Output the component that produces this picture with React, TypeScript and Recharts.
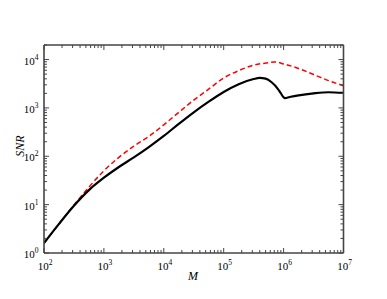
import { LineChart, Line, XAxis, YAxis } from "recharts";

// (log10 spacing on both axes)
const MASS_SOLID = [
  100, 178, 316, 562, 1000, 1778, 3162, 5623, 10000, 17783, 31623, 56234,
  100000, 177828, 316228, 398107, 501187, 630957, 794328, 891251, 1000000,
  1047129, 1258925, 1778279, 3162278, 5623413, 10000000,
];
const SNR_SOLID = [
  1.6, 4.0, 9.5, 20, 36, 60, 95, 155, 263, 468, 813, 1350, 2140, 3100, 3960,
  4170, 4030, 3390, 2510, 2040, 1660, 1600, 1680, 1820, 2000, 2110, 2040,
];

const MASS_DASHED = [
  100, 178, 316, 562, 1000, 1778, 3162, 5623, 10000, 17783, 31623, 56234,
  100000, 177828, 316228, 562341, 707946, 1000000, 1778279, 3162278, 5623413,
  10000000,
];
const SNR_DASHED = [
  1.6, 4.0, 9.8, 23, 50, 95, 162, 257, 447, 810, 1450, 2450, 4170, 5890, 7660,
  8610, 8950, 8130, 6530, 4900, 3670, 2880,
];

const X_MAJOR = [1e2, 1e3, 1e4, 1e5, 1e6, 1e7];
const Y_MAJOR = [1, 10, 100, 1e3, 1e4];
const MINOR_STEPS = [2, 3, 4, 5, 6, 7, 8, 9];

const X_DOMAIN = [1e2, 1e7];
const Y_DOMAIN = [1, 2e4];

const AXIS = "#454545";
const FONT = "Liberation Serif, Times New Roman, serif";

const withMinor = (majors: number[], max: number) => {
  const out: number[] = [];
  majors.forEach((m) => {
    out.push(m);
    MINOR_STEPS.forEach((s) => {
      if (m * s <= max) out.push(m * s);
    });
  });
  return out.filter((v) => v <= max);
};

const X_TICKS = withMinor(X_MAJOR, X_DOMAIN[1]);
const Y_TICKS = withMinor(Y_MAJOR, Y_DOMAIN[1]);

const solidData = MASS_SOLID.map((m, i) => ({ m, snr: SNR_SOLID[i] }));
const dashedData = MASS_DASHED.map((m, i) => ({ m, snr: SNR_DASHED[i] }));

function isMajor(v: number) {
  const l = Math.log10(v);
  return Math.abs(l - Math.round(l)) < 1e-6;
}

function Tick(props: any) {
  const { x, y, payload, side } = props;
  const v = payload.value;
  const major = isMajor(v);
  const len = major ? 5 : 3;
  const e = Math.round(Math.log10(v));
  let line;
  if (side === "bottom") line = <line x1={x} x2={x} y1={y} y2={y - len} />;
  else if (side === "top") line = <line x1={x} x2={x} y1={y} y2={y + len} />;
  else if (side === "left") line = <line x1={x} x2={x + len} y1={y} y2={y} />;
  else line = <line x1={x} x2={x - len} y1={y} y2={y} />;

  return (
    <g stroke={AXIS} strokeWidth={1}>
      {line}
      {major && side === "bottom" && (
        <text x={x + 1} y={y + 17} textAnchor="middle" fontFamily={FONT} fontSize={11} fill="#000" stroke="none">
          10
          <tspan dy={-5} fontSize={7.5}>{e}</tspan>
        </text>
      )}
      {major && side === "left" && (
        <text x={x - 5.5} y={y + 5} textAnchor="end" fontFamily={FONT} fontSize={11} fill="#000" stroke="none">
          10
          <tspan dy={-5} fontSize={7.5}>{e}</tspan>
        </text>
      )}
    </g>
  );
}

const axisLine = { stroke: AXIS, strokeWidth: 1.6 };

export default function App() {
  return (
    <div style={{ position: "absolute", left: 0, top: 0, background: "#fff" }}>
      <LineChart width={387} height={299} margin={{ top: 44, right: 42.5, bottom: 45, left: 43 }}>
        <XAxis
          xAxisId="b"
          dataKey="m"
          type="number"
          scale="log"
          domain={X_DOMAIN}
          ticks={X_TICKS}
          interval={0}
          height={1}
          tickSize={0}
          tickMargin={0}
          tickLine={false}
          axisLine={axisLine}
          allowDataOverflow
          tick={<Tick side="bottom" />}
          label={{
            value: "M",
            content: () => (
              <text x={193} y={280} textAnchor="middle" fontFamily={FONT} fontStyle="italic" fontSize={12} fill="#000">
                M
              </text>
            ),
          }}
        />
        <XAxis
          xAxisId="t"
          orientation="top"
          dataKey="m"
          type="number"
          scale="log"
          domain={X_DOMAIN}
          ticks={X_TICKS}
          interval={0}
          height={1}
          tickSize={0}
          tickMargin={0}
          tickLine={false}
          axisLine={axisLine}
          allowDataOverflow
          tick={<Tick side="top" />}
        />
        <YAxis
          yAxisId="l"
          dataKey="snr"
          type="number"
          scale="log"
          domain={Y_DOMAIN}
          ticks={Y_TICKS}
          interval={0}
          width={1}
          tickSize={0}
          tickMargin={0}
          tickLine={false}
          axisLine={axisLine}
          allowDataOverflow
          tick={<Tick side="left" />}
          label={{
            value: "SNR",
            content: () => (
              <text
                x={24}
                y={146}
                transform="rotate(-90 24 146)"
                textAnchor="middle"
                fontFamily={FONT}
                fontStyle="italic"
                fontSize={12}
                fill="#000"
              >
                SNR
              </text>
            ),
          }}
        />
        <YAxis
          yAxisId="r"
          orientation="right"
          dataKey="snr"
          type="number"
          scale="log"
          domain={Y_DOMAIN}
          ticks={Y_TICKS}
          interval={0}
          width={1}
          tickSize={0}
          tickMargin={0}
          tickLine={false}
          axisLine={axisLine}
          allowDataOverflow
          tick={<Tick side="right" />}
        />
        <Line
          xAxisId="b"
          yAxisId="l"
          data={dashedData}
          dataKey="snr"
          type="monotone"
          stroke="#ff0000"
          strokeWidth={1.5}
          strokeDasharray="5 3"
          dot={false}
          activeDot={false}
          isAnimationActive={false}
        />
        <Line
          xAxisId="b"
          yAxisId="l"
          data={solidData}
          dataKey="snr"
          type="monotone"
          stroke="#000"
          strokeWidth={2.2}
          dot={false}
          activeDot={false}
          isAnimationActive={false}
        />
      </LineChart>
    </div>
  );
}
